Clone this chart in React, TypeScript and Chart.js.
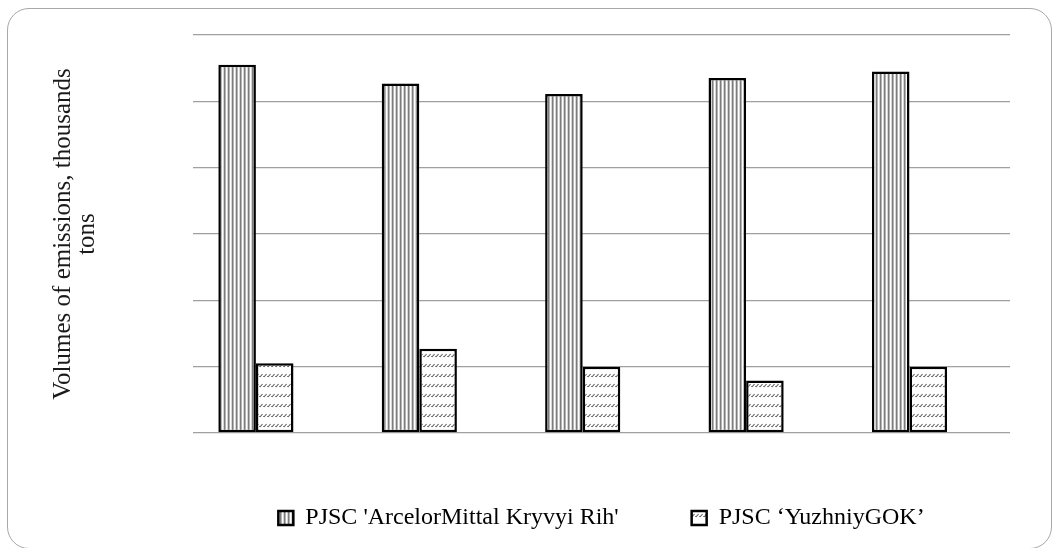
import { useEffect, useRef } from "react";
import { Chart, registerables } from "chart.js";

Chart.register(...registerables);

const categories = ["2014", "2015", "2016", "2017", "2018"];
const arcelorValues = [55.5, 52.7, 51.1, 53.5, 54.5];
const yuzhniyValues = [10.5, 12.7, 10.0, 7.9, 10.0];
const emptyValues: (number | null)[] = [null, null, null, null, null];
const seriesLabels = ["PJSC 'ArcelorMittal Kryvyi Rih'", "PJSC \u2018YuzhniyGOK\u2019"];
const yTitle = ["Volumes of emissions, thousands", "tons"];
const yMin = 0;
const yMax = 60;
const yStep = 10;

function makeStripePattern(ctx: CanvasRenderingContext2D): CanvasPattern | string {
  const c = document.createElement("canvas");
  c.width = 4;
  c.height = 4;
  const g = c.getContext("2d");
  if (!g) return "#ccc";
  g.fillStyle = "#ffffff";
  g.fillRect(0, 0, 4, 4);
  g.fillStyle = "#7c7c7c";
  g.fillRect(0, 0, 1, 4);
  g.fillStyle = "#b4b4b4";
  g.fillRect(1, 0, 1, 4);
  g.fillStyle = "#d6d6d6";
  g.fillRect(3, 0, 1, 4);
  return ctx.createPattern(c, "repeat") || "#ccc";
}

function makeWavePattern(ctx: CanvasRenderingContext2D): CanvasPattern | string {
  const c = document.createElement("canvas");
  c.width = 4;
  c.height = 10;
  const g = c.getContext("2d");
  if (!g) return "#eee";
  g.fillStyle = "#ffffff";
  g.fillRect(0, 0, 4, 10);
  g.strokeStyle = "#5a5a5a";
  g.lineWidth = 1.1;
  g.beginPath();
  g.moveTo(0, 7);
  g.lineTo(2.5, 4);
  g.stroke();
  g.fillStyle = "#808080";
  g.fillRect(3, 6, 1, 1);
  return ctx.createPattern(c, "repeat") || "#eee";
}

export default function App() {
  const canvasRef = useRef<HTMLCanvasElement | null>(null);

  useEffect(() => {
    const canvas = canvasRef.current;
    if (!canvas) return;
    const ctx = canvas.getContext("2d");
    if (!ctx) return;
    const stripe = makeStripePattern(ctx);
    const wave = makeWavePattern(ctx);
    const serif = "'Liberation Serif', 'Times New Roman', serif";

    const chart = new Chart(ctx, {
      type: "bar",
      data: {
        labels: categories,
        datasets: [
          {
            label: seriesLabels[0],
            data: arcelorValues,
            backgroundColor: stripe as any,
            borderColor: "#000000",
            borderWidth: 2.5,
            borderSkipped: false,
          },
          {
            label: seriesLabels[1],
            data: yuzhniyValues,
            backgroundColor: wave as any,
            borderColor: "#000000",
            borderWidth: 2.5,
            borderSkipped: false,
          },
          {
            label: "",
            data: emptyValues,
            backgroundColor: "rgba(0,0,0,0)",
            borderWidth: 0,
          },
        ],
      },
      options: {
        animation: false,
        responsive: false,
        events: [],
        layout: { padding: { left: 45, right: 46, top: 35, bottom: 8 } },
        datasets: { bar: { categoryPercentage: 0.69, barPercentage: 1 } },
        scales: {
          x: { display: false },
          y: {
            min: yMin,
            max: yMax,
            ticks: { display: false, stepSize: yStep },
            border: { display: false },
            grid: { color: "#a0a0a0", lineWidth: 1.3, drawTicks: false },
            title: {
              display: true,
              text: yTitle,
              color: "#1a1a1a",
              font: { family: serif, size: 25, lineHeight: 0.95 },
              padding: { top: 7, bottom: 0 },
            },
            afterFit: (scale: any) => {
              scale.width = 148;
            },
          },
        },
        plugins: {
          legend: {
            position: "bottom",
            fullSize: false,
            labels: {
              filter: (item: any) => item.datasetIndex < 2,
              boxWidth: 15,
              boxHeight: 14,
              padding: 73,
              color: "#000000",
              font: { family: serif, size: 24 },
            },
          },
          tooltip: { enabled: false },
        },
      },
    });
    return () => chart.destroy();
  }, []);

  return (
    <div
      style={{
        position: "absolute",
        left: 0,
        top: 0,
        width: 1056,
        height: 548,
        overflow: "hidden",
        background: "#ffffff",
      }}
    >
      <div
        style={{
          position: "absolute",
          left: 7,
          top: 8,
          width: 1045,
          height: 541,
          border: "1.5px solid #a8a8a8",
          borderRadius: 22,
          boxSizing: "border-box",
        }}
      />
      <canvas
        ref={canvasRef}
        width={1056}
        height={548}
        style={{ position: "absolute", left: 0, top: 0, width: 1056, height: 548 }}
      />
    </div>
  );
}
